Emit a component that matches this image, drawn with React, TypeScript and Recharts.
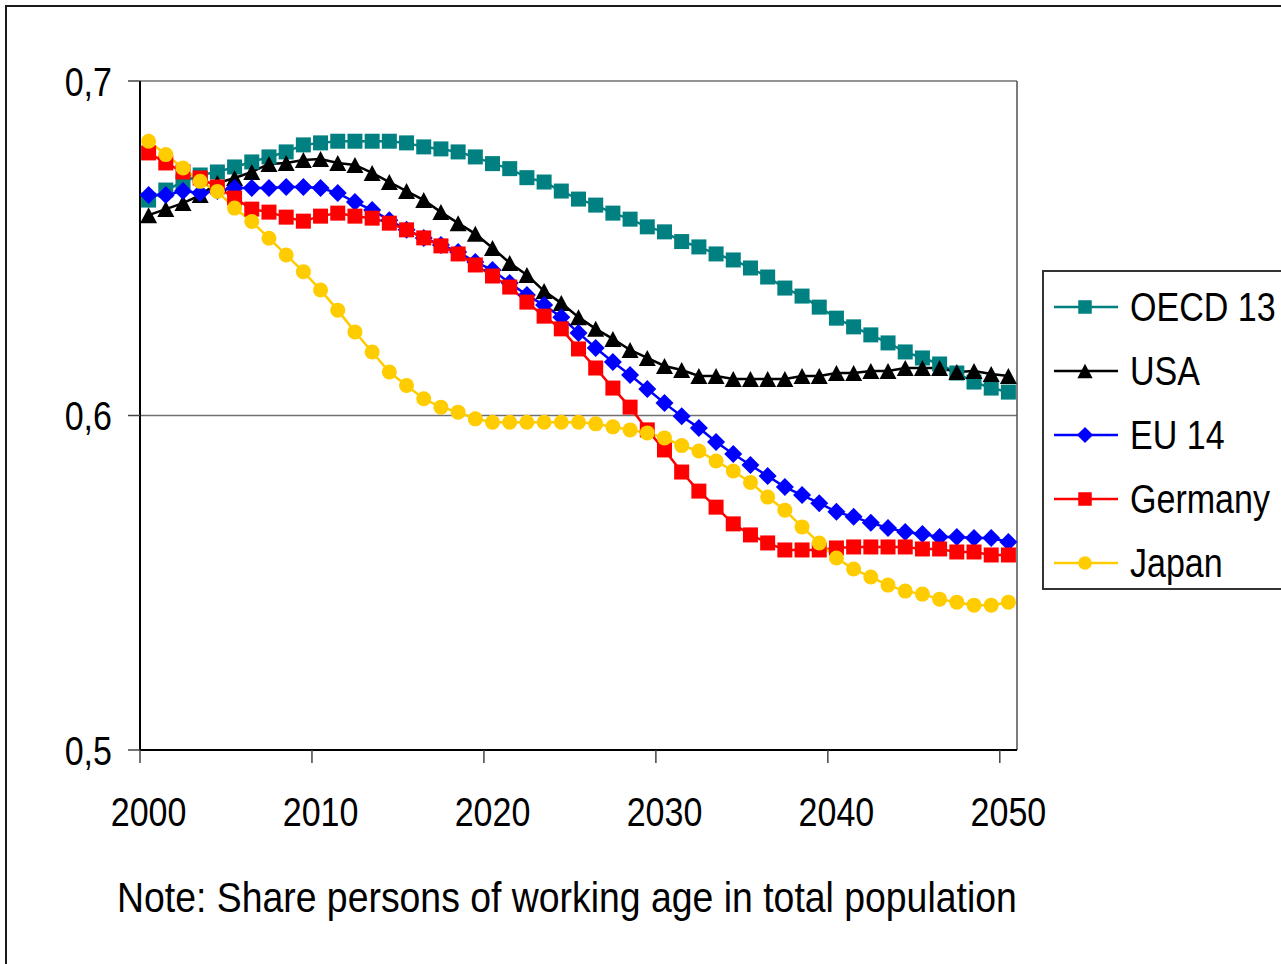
import React from 'react';
import { LineChart, Line, XAxis, YAxis, CartesianGrid, Legend, ReferenceLine } from 'recharts';

const years = [
  2000, 2001, 2002, 2003, 2004, 2005, 2006, 2007, 2008, 2009,
  2010, 2011, 2012, 2013, 2014, 2015, 2016, 2017, 2018, 2019,
  2020, 2021, 2022, 2023, 2024, 2025, 2026, 2027, 2028, 2029,
  2030, 2031, 2032, 2033, 2034, 2035, 2036, 2037, 2038, 2039,
  2040, 2041, 2042, 2043, 2044, 2045, 2046, 2047, 2048, 2049, 2050,
];

const oecd13 = [
  0.6644, 0.6674, 0.6698, 0.6719, 0.6728, 0.6743, 0.6758, 0.6773, 0.6788, 0.6809,
  0.6815, 0.682, 0.682, 0.682, 0.682, 0.6815, 0.6803, 0.6797, 0.6788, 0.6773,
  0.6753, 0.6738, 0.6711, 0.6698, 0.6671, 0.6647, 0.6629, 0.6605, 0.6587, 0.6564,
  0.6549, 0.652, 0.6504, 0.6483, 0.6465, 0.6441, 0.6414, 0.6381, 0.6357, 0.6324,
  0.6291, 0.6265, 0.6241, 0.6217, 0.619, 0.6172, 0.6154, 0.6127, 0.61, 0.6082, 0.607,
];

const usa = [
  0.6599, 0.6617, 0.6635, 0.6659, 0.6695, 0.671, 0.6728, 0.6752, 0.6755, 0.6764,
  0.6767, 0.6755, 0.6749, 0.6725, 0.6698, 0.6671, 0.6644, 0.6608, 0.6575, 0.6543,
  0.6501, 0.6456, 0.642, 0.6372, 0.6336, 0.6294, 0.6259, 0.6229, 0.6196, 0.6172,
  0.6148, 0.6136, 0.6118, 0.6118, 0.6109, 0.6109, 0.6109, 0.6109, 0.6118, 0.6118,
  0.6127, 0.6127, 0.6133, 0.6133, 0.6142, 0.6142, 0.6142, 0.613, 0.6133, 0.6124, 0.6118,
];

const eu14 = [
  0.6659, 0.6659, 0.6671, 0.6665, 0.6671, 0.668, 0.668, 0.668, 0.6683, 0.6683,
  0.668, 0.6665, 0.6638, 0.6614, 0.6584, 0.6555, 0.6531, 0.651, 0.6489, 0.6459,
  0.6435, 0.6396, 0.636, 0.633, 0.6294, 0.6247, 0.6202, 0.616, 0.6121, 0.6079,
  0.6037, 0.5998, 0.5963, 0.5921, 0.5885, 0.5852, 0.5819, 0.5786, 0.5762, 0.5738,
  0.5712, 0.5697, 0.5679, 0.5664, 0.5652, 0.5646, 0.5637, 0.5637, 0.5634, 0.5634, 0.5622,
];

const germany = [
  0.6785, 0.6755, 0.6728, 0.671, 0.6683, 0.665, 0.6617, 0.6608, 0.6593, 0.6581,
  0.6596, 0.6605, 0.6596, 0.659, 0.6575, 0.6555, 0.6531, 0.6507, 0.6483, 0.645,
  0.6417, 0.6384, 0.6339, 0.6297, 0.6259, 0.6199, 0.6142, 0.6082, 0.6025, 0.5957,
  0.5897, 0.5831, 0.5774, 0.5726, 0.5676, 0.5643, 0.5619, 0.5598, 0.5598, 0.5598,
  0.5604, 0.5607, 0.5607, 0.5607, 0.5607, 0.5601, 0.5601, 0.5592, 0.5592, 0.5583, 0.5583,
];

const japan = [
  0.682, 0.678, 0.674, 0.67, 0.667, 0.662, 0.658, 0.653, 0.648, 0.643,
  0.6375, 0.6315, 0.625, 0.619, 0.613, 0.609, 0.605, 0.6025, 0.601, 0.599,
  0.598, 0.598, 0.598, 0.598, 0.598, 0.598, 0.5975, 0.5966, 0.5957, 0.5948,
  0.5933, 0.591, 0.5894, 0.5864, 0.5834, 0.58, 0.5756, 0.5717, 0.5667, 0.5619,
  0.5574, 0.5541, 0.5517, 0.5493, 0.5475, 0.5466, 0.5451, 0.5442, 0.5433, 0.5433, 0.5442,
];

const xTickPositions = [1999.5, 2009.5, 2019.5, 2029.5, 2039.5, 2049.5];
const xTickLabels = ['2000', '2010', '2020', '2030', '2040', '2050'];
const yTicks = [0.5, 0.6, 0.7];
const yTickLabels = ['0,5', '0,6', '0,7'];
const noteText = 'Note: Share persons of working age in total population';

const series = [
  { key: 'oecd13', name: 'OECD 13', color: '#008080', shape: 'square' },
  { key: 'usa', name: 'USA', color: '#000000', shape: 'triangle' },
  { key: 'eu14', name: 'EU 14', color: '#0000FF', shape: 'diamond' },
  { key: 'germany', name: 'Germany', color: '#FF0000', shape: 'square' },
  { key: 'japan', name: 'Japan', color: '#FFCC00', shape: 'circle' },
];

const data = years.map((year, i) => ({
  year,
  oecd13: oecd13[i],
  usa: usa[i],
  eu14: eu14[i],
  germany: germany[i],
  japan: japan[i],
}));

const FONT = '"Liberation Sans Narrow", "Arial Narrow", "Liberation Sans", Arial, sans-serif';
const SQUEEZE = 0.83;

function Marker({ shape, color, cx, cy, s = 1 }: { shape: string; color: string; cx: number; cy: number; s?: number }) {
  if (shape === 'square') {
    const h = 7.5 * s;
    return <rect x={cx - h} y={cy - h} width={2 * h} height={2 * h} fill={color} stroke="none" />;
  }
  if (shape === 'triangle') {
    const w = 8.5 * s;
    const h = 8 * s;
    return <polygon points={`${cx},${cy - h} ${cx + w},${cy + h} ${cx - w},${cy + h}`} fill={color} stroke="none" />;
  }
  if (shape === 'diamond') {
    const d = 9 * s;
    return <polygon points={`${cx},${cy - d} ${cx + d},${cy} ${cx},${cy + d} ${cx - d},${cy}`} fill={color} stroke="none" />;
  }
  return <circle cx={cx} cy={cy} r={7.5 * s} fill={color} stroke="none" />;
}

function renderDot(shape: string, color: string) {
  return (props: any) => {
    const { cx, cy, index } = props;
    if (cx == null || cy == null) return <g key={`d-${index}`} />;
    return (
      <g key={`d-${index}`}>
        <Marker shape={shape} color={color} cx={cx} cy={cy} />
      </g>
    );
  };
}

function XTick(props: any) {
  const { x, y, payload } = props;
  const label = xTickLabels[xTickPositions.indexOf(payload.value)] ?? '';
  return (
    <g transform={`translate(${x + 8.6},${y})`}>
      <text
        x={0}
        y={0}
        dy="0.71em"
        textAnchor="middle"
        fill="#000"
        fontSize={41}
        fontFamily={FONT}
        transform={`scale(${SQUEEZE},1)`}
      >
        {label}
      </text>
    </g>
  );
}

function YTick(props: any) {
  const { x, y, payload } = props;
  const label = yTickLabels[yTicks.indexOf(payload.value)] ?? '';
  return (
    <g transform={`translate(${x},${y})`}>
      <text
        x={0}
        y={0}
        dy="0.355em"
        textAnchor="end"
        fill="#000"
        fontSize={41}
        fontFamily={FONT}
        transform={`scale(${SQUEEZE},1)`}
      >
        {label}
      </text>
    </g>
  );
}

function LegendContent(props: any) {
  const payload = props.payload || [];
  const ordered = series
    .map((s) => ({ s, entry: payload.find((e: any) => e.dataKey === s.key) }))
    .filter((o) => o.entry);
  return (
    <div style={{ paddingTop: 3 }}>
      {ordered.map(({ s, entry }: any) => (
        <div key={s.key} style={{ height: 64, display: 'flex', alignItems: 'center' }}>
          <svg width={86} height={64} style={{ display: 'block', flex: 'none' }}>
            <line x1={10} y1={32} x2={74} y2={32} stroke={s.color} strokeWidth={2.5} />
            <Marker shape={s.shape} color={s.color} cx={41} cy={32} s={0.9} />
          </svg>
          <span
            style={{
              display: 'inline-block',
              fontFamily: FONT,
              fontSize: 41,
              color: '#000',
              whiteSpace: 'nowrap',
              lineHeight: '64px',
              transform: `scaleX(${SQUEEZE})`,
              transformOrigin: 'left center',
            }}
          >
            {entry.value}
          </span>
        </div>
      ))}
    </div>
  );
}

export default function App() {
  return (
    <div style={{ position: 'relative', width: 1281, height: 964, overflow: 'hidden', background: '#fff' }}>
      <style>{'body{margin:0}'}</style>
      <div
        style={{
          position: 'absolute',
          left: 5,
          top: 5,
          width: 1400,
          height: 1100,
          border: '2px solid #1a1a1a',
          boxSizing: 'border-box',
        }}
      />
      <div style={{ position: 'absolute', left: 0, top: 0 }}>
        <LineChart
          width={1281}
          height={964}
          data={data}
          margin={{ top: 81, right: 264, left: 0, bottom: 154 }}
        >
          <CartesianGrid horizontal vertical={false} stroke="#707070" strokeWidth={1.5} />
          <XAxis
            type="number"
            dataKey="year"
            domain={[1999.5, 2050.5]}
            ticks={xTickPositions}
            interval={0}
            allowDecimals
            height={60}
            tickSize={13}
            tickMargin={34}
            tick={<XTick />}
            axisLine={{ stroke: '#000', strokeWidth: 2 }}
            tickLine={{ stroke: '#444', strokeWidth: 1.5 }}
          />
          <YAxis
            type="number"
            domain={[0.5, 0.7]}
            ticks={yTicks}
            interval={0}
            width={140}
            tickSize={12}
            tickMargin={16}
            tick={<YTick />}
            axisLine={{ stroke: '#000', strokeWidth: 2 }}
            tickLine={{ stroke: '#444', strokeWidth: 1.5 }}
          />
          <ReferenceLine x={2050.5} stroke="#505050" strokeWidth={1.5} ifOverflow="visible" />
          {series.map((s) => (
            <Line
              key={s.key}
              type="linear"
              dataKey={s.key}
              name={s.name}
              stroke={s.color}
              strokeWidth={2.5}
              dot={renderDot(s.shape, s.color)}
              activeDot={false}
              isAnimationActive={false}
            />
          ))}
          <Legend
            layout="vertical"
            align="center"
            verticalAlign="middle"
            content={<LegendContent />}
            wrapperStyle={{
              position: 'absolute',
              left: 1042,
              top: 270,
              width: 260,
              height: 320,
              border: '2px solid #333',
              background: '#fff',
              boxSizing: 'border-box',
            }}
          />
        </LineChart>
      </div>
      <div
        style={{
          position: 'absolute',
          left: 117,
          top: 877,
          fontFamily: FONT,
          fontSize: 42,
          lineHeight: '42px',
          color: '#000',
          whiteSpace: 'nowrap',
          transform: 'scaleX(0.89)',
          transformOrigin: 'left center',
        }}
      >
        {noteText}
      </div>
    </div>
  );
}
